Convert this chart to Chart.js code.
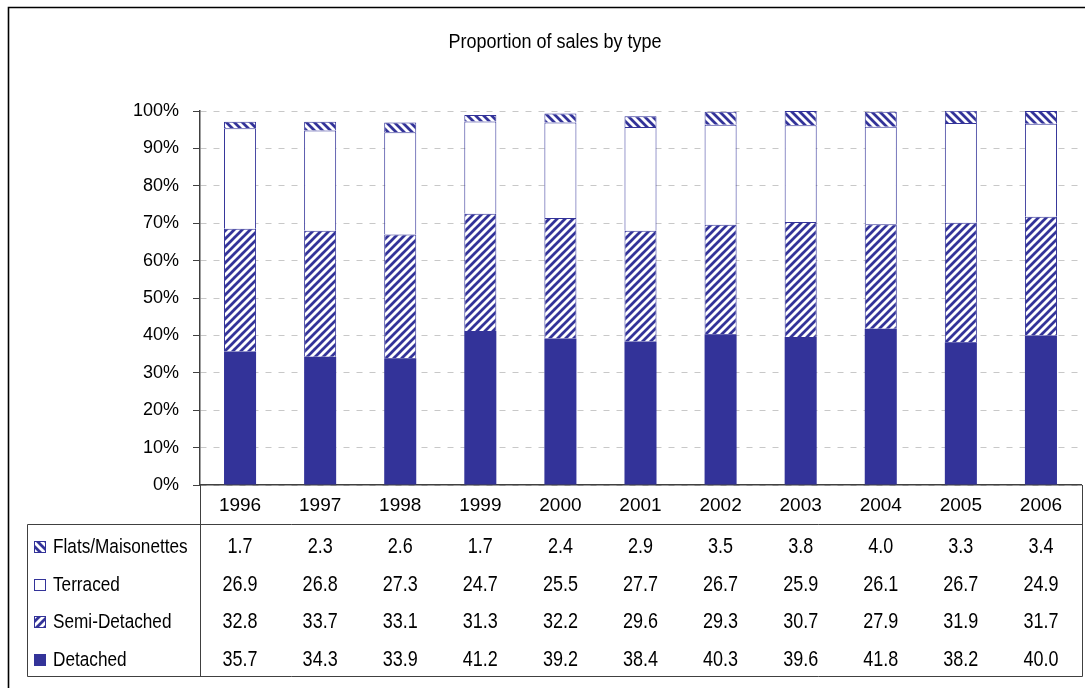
<!doctype html>
<html lang="en">
<head>
  <meta charset="utf-8">
  <title>Proportion of sales by type</title>
  <style>
    body { margin: 0; background: #fff; }
    #wrap { position: relative; width: 1085px; height: 688px; }
  </style>
</head>
<body>
  <div id="wrap"><canvas id="myChart"></canvas></div>

  <script src="https://cdn.jsdelivr.net/npm/chart.js@4/dist/chart.umd.min.js"></script>
  <script>
  const years = ['1996', '1997', '1998', '1999', '2000', '2001', '2002', '2003', '2004', '2005', '2006'];
  const detached = [35.7, 34.3, 33.9, 41.2, 39.2, 38.4, 40.3, 39.6, 41.8, 38.2, 40.0];
  const semiDetached = [32.8, 33.7, 33.1, 31.3, 32.2, 29.6, 29.3, 30.7, 27.9, 31.9, 31.7];
  const terraced = [26.9, 26.8, 27.3, 24.7, 25.5, 27.7, 26.7, 25.9, 26.1, 26.7, 24.9];
  const flats = [1.7, 2.3, 2.6, 1.7, 2.4, 2.9, 3.5, 3.8, 4.0, 3.3, 3.4];

  const blue = '#333399';
  const font = '"Liberation Sans", Arial, sans-serif';

  // striped fill, dir 1 = "/" and -1 = "\"
  function stripes(dir) {
    const c = document.createElement('canvas');
    c.width = 8; c.height = 8;
    const g = c.getContext('2d');
    g.fillStyle = '#fff';
    g.fillRect(0, 0, 8, 8);
    g.strokeStyle = blue;
    g.lineWidth = 2.8;
    g.beginPath();
    if (dir > 0) {
      g.moveTo(-2, 10); g.lineTo(10, -2);
      g.moveTo(-2, 2); g.lineTo(2, -2);
      g.moveTo(6, 10); g.lineTo(10, 6);
    } else {
      g.moveTo(-2, -2); g.lineTo(10, 10);
      g.moveTo(-2, 6); g.lineTo(2, 10);
      g.moveTo(6, -2); g.lineTo(10, 2);
    }
    g.stroke();
    return g.createPattern(c, 'repeat');
  }

  const semiFill = stripes(1);
  const flatFill = stripes(-1);

  // table rows, top to bottom
  const rows = [
    { label: 'Flats/Maisonettes', data: flats, fill: flatFill },
    { label: 'Terraced', data: terraced, fill: '#fff' },
    { label: 'Semi-Detached', data: semiDetached, fill: semiFill },
    { label: 'Detached', data: detached, fill: blue },
  ];
  const rowY = [547, 585, 622, 660];

  // text a bit taller than wide, like the original export
  function tallText(ctx, txt, x, y, sy) {
    ctx.save();
    ctx.translate(x, y);
    ctx.scale(1, sy);
    ctx.fillText(txt, 0, 0);
    ctx.restore();
  }

  const decor = {
    id: 'decor',
    afterDraw(chart) {
      const ctx = chart.ctx;
      const x = chart.scales.x;
      const area = chart.chartArea;
      ctx.save();

      // outer frame (open on the right and bottom)
      ctx.strokeStyle = '#000';
      ctx.lineWidth = 1.6;
      ctx.beginPath();
      ctx.moveTo(8.5, 700); ctx.lineTo(8.5, 7.5); ctx.lineTo(1090, 7.5);
      ctx.stroke();

      // title
      ctx.fillStyle = '#000';
      ctx.font = '18px ' + font;
      ctx.textAlign = 'center';
      ctx.textBaseline = 'middle';
      tallText(ctx, 'Proportion of sales by type', 555, 42, 1.15);

      // data table lines
      ctx.strokeStyle = '#404040';
      ctx.lineWidth = 1;
      ctx.beginPath();
      ctx.moveTo(27.5, 524.5); ctx.lineTo(area.right + 1.5, 524.5);
      ctx.moveTo(27.5, 676.5); ctx.lineTo(area.right + 1.5, 676.5);
      ctx.moveTo(27.5, 524.5); ctx.lineTo(27.5, 676.5);
      ctx.moveTo(area.left + 0.5, area.bottom); ctx.lineTo(area.left + 0.5, 676.5);
      ctx.moveTo(area.right + 1.5, area.bottom); ctx.lineTo(area.right + 1.5, 676.5);
      ctx.stroke();

      rows.forEach((r, i) => {
        const y = rowY[i];
        // legend key
        ctx.fillStyle = r.fill;
        ctx.fillRect(34, y - 6, 12, 12);
        ctx.strokeStyle = blue;
        ctx.strokeRect(34.5, y - 5.5, 11, 11);
        // row label
        ctx.fillStyle = '#000';
        ctx.textAlign = 'left';
        ctx.font = '17.2px ' + font;
        tallText(ctx, r.label, 53, y, 1.2);
        // values
        ctx.textAlign = 'center';
        ctx.font = '18px ' + font;
        r.data.forEach((v, j) => {
          tallText(ctx, v.toFixed(1), x.getPixelForValue(j), y, 1.2);
        });
      });
      ctx.restore();
    }
  };

  const ctx = document.getElementById('myChart').getContext('2d');
  new Chart(ctx, {
    type: 'bar',
    data: {
      labels: years,
      datasets: [
        { label: 'Detached', data: detached, backgroundColor: blue, borderWidth: 0 },
        { label: 'Semi-Detached', data: semiDetached, backgroundColor: semiFill, borderColor: blue, borderWidth: 1 },
        { label: 'Terraced', data: terraced, backgroundColor: '#fff', borderColor: blue, borderWidth: 1 },
        { label: 'Flats/Maisonettes', data: flats, backgroundColor: flatFill, borderColor: blue, borderWidth: 1 },
      ]
    },
    options: {
      responsive: true,
      maintainAspectRatio: false,
      animation: false,
      layout: { padding: { top: 111, right: 4, left: 0, bottom: 0 } },
      datasets: {
        bar: { barPercentage: 0.4, categoryPercentage: 1 }
      },
      plugins: {
        legend: { display: false },
        title: { display: false },
        tooltip: { enabled: false }
      },
      scales: {
        x: {
          stacked: true,
          afterFit: s => { s.height = 203; },
          grid: { display: false },
          border: { display: true, color: '#404040', width: 1.5 },
          ticks: { color: '#000', font: { family: font, size: 19 }, padding: 1, maxRotation: 0 }
        },
        y: {
          stacked: true,
          min: 0,
          max: 100,
          afterFit: s => { s.width = 200; },
          ticks: {
            stepSize: 10,
            color: '#000',
            padding: 14,
            font: { family: font, size: 18 },
            callback: v => v + '%'
          },
          grid: {
            color: '#c8c8c8',
            tickColor: '#404040',
            tickLength: 7,
            tickBorderDash: []
          },
          border: { display: true, color: '#404040', width: 1.5, dash: [6, 7] }
        }
      }
    },
    plugins: [decor]
  });
  </script>
</body>
</html>
